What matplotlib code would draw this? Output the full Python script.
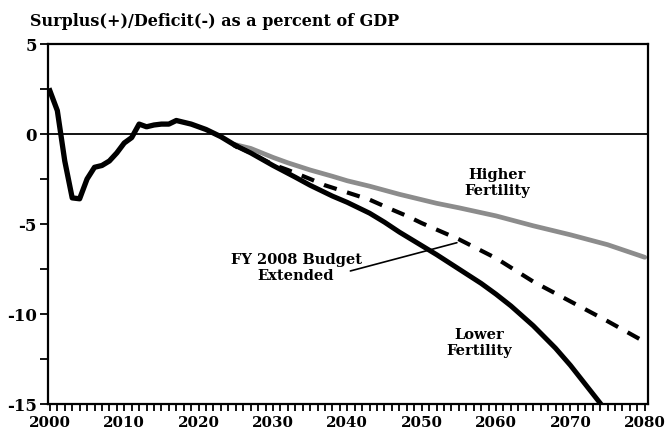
import numpy as np
import matplotlib
matplotlib.use("Agg")
import matplotlib.pyplot as plt
from matplotlib.ticker import MultipleLocator

plt.rcParams["font.family"] = "DejaVu Serif"
plt.rcParams["font.weight"] = "bold"
plt.rcParams["axes.unicode_minus"] = False

# shared path (actuals + near-term projection)
hist_years = [2000, 2001, 2002, 2003, 2004, 2005, 2006, 2007, 2008, 2009,
              2010, 2011, 2012, 2013, 2014, 2015, 2016, 2017, 2018, 2019,
              2020, 2021, 2022, 2023, 2024, 2025]
hist_vals = [2.4, 1.3, -1.5, -3.55, -3.6, -2.5, -1.85, -1.75, -1.5, -1.05,
             -0.5, -0.2, 0.55, 0.4, 0.5, 0.55, 0.55, 0.75, 0.65, 0.55,
             0.4, 0.25, 0.05, -0.15, -0.4, -0.65]

# scenarios after 2025
low_years = [2025, 2027, 2030, 2033, 2035, 2038, 2040, 2043, 2045, 2047,
             2050, 2052, 2055, 2058, 2060, 2062, 2065, 2068, 2070, 2072,
             2074, 2075]
low_vals = [-0.65, -1.05, -1.75, -2.4, -2.85, -3.45, -3.8, -4.4, -4.9, -5.45,
            -6.2, -6.7, -7.5, -8.3, -8.9, -9.55, -10.65, -11.9, -12.85, -13.9,
            -14.95, -15.5]

base_years = [2025, 2027, 2030, 2032, 2035, 2037, 2040, 2043, 2046, 2048,
              2050, 2055, 2060, 2065, 2070, 2075, 2080]
base_vals = [-0.65, -1.05, -1.7, -2.0, -2.5, -2.85, -3.25, -3.65, -4.2, -4.55,
             -4.95, -5.85, -6.9, -8.2, -9.3, -10.4, -11.55]

high_years = [2025, 2027, 2030, 2032, 2035, 2038, 2040, 2043, 2047, 2050,
              2052, 2055, 2060, 2065, 2070, 2075, 2080]
high_vals = [-0.6, -0.8, -1.3, -1.6, -2.0, -2.35, -2.6, -2.9, -3.35, -3.65,
             -3.85, -4.1, -4.55, -5.1, -5.6, -6.15, -6.85]

fig = plt.figure(figsize=(6.65, 4.39), dpi=100)
ax = fig.add_axes([0.072, 0.0775, 0.902, 0.82])

ax.axhline(0, color="black", lw=1.3, zorder=1)
ax.plot(high_years, high_vals, color="#8c8c8c", lw=3.4, solid_capstyle="round", zorder=2)
ax.plot(base_years, base_vals, color="black", lw=3.0, linestyle=(0, (3.2, 2.6)), zorder=3)
ax.plot(low_years, low_vals, color="black", lw=3.6, zorder=4)
ax.plot(hist_years, hist_vals, color="black", lw=3.8, solid_joinstyle="round", zorder=5)

ax.set_xlim(1999.73, 2080.4)
ax.set_ylim(-15, 5)
ax.xaxis.set_major_locator(MultipleLocator(10))
ax.xaxis.set_minor_locator(MultipleLocator(1))
ax.yaxis.set_major_locator(MultipleLocator(5))
ax.yaxis.set_minor_locator(MultipleLocator(2.5))
ax.tick_params(axis="both", which="both", direction="out", width=1.3, colors="black")
ax.tick_params(axis="x", which="both", length=5, labelsize=10.8, pad=3)
ax.tick_params(axis="y", which="both", length=6, labelsize=12, pad=2)
for s in ax.spines.values():
    s.set_linewidth(1.6)

ax.annotate("", xy=(2055.1, -6.0), xytext=(2040.05, -7.65),
            arrowprops=dict(arrowstyle="-", color="black", lw=1.2))
ax.text(2060.1, -2.67, "Higher\nFertility", ha="center", va="center", fontsize=10.5,
        fontweight="bold", linespacing=1.15)
ax.text(2057.8, -11.55, "Lower\nFertility", ha="center", va="center", fontsize=10.5,
        fontweight="bold", linespacing=1.15)
ax.text(2033.1, -7.39, "FY 2008 Budget\nExtended", ha="center", va="center", fontsize=10.5,
        fontweight="bold", linespacing=1.15)

fig.text(0.045, 0.952, "Surplus(+)/Deficit(-) as a percent of GDP", ha="left", va="center",
         fontsize=11.5, fontweight="bold")

fig.savefig("out.png", dpi=100)
